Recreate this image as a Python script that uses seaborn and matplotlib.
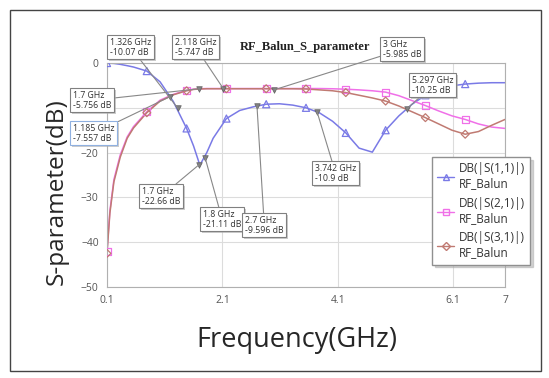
import pandas as pd
import matplotlib.pyplot as plt
import matplotlib.patheffects as pe
from matplotlib.lines import Line2D
from matplotlib.patches import Rectangle
import seaborn as sns

# dados (GHz / dB)
freq = [0.1, 0.15, 0.22, 0.33, 0.45, 0.56, 0.79, 1.02, 1.25, 1.48, 1.6, 1.71, 1.83, 1.94,
        2.17, 2.4, 2.63, 2.86, 3.09, 3.32, 3.55, 3.78, 4.01, 4.24, 4.47, 4.7, 4.93, 5.16,
        5.39, 5.62, 5.85, 6.08, 6.31, 6.54, 6.77, 7.0]
s11 = [0, -0.05, -0.1, -0.3, -0.6, -0.9, -1.8, -4.2, -8.6, -14.6, -18.5, -22.8, -20.0, -16.8,
       -12.4, -10.6, -9.8, -9.2, -9.1, -9.4, -10.0, -11.1, -13.0, -15.6, -19.0, -19.9, -15.0, -11.8,
       -9.2, -7.2, -5.9, -5.1, -4.7, -4.5, -4.4, -4.4]
s21 = [-42, -33, -26, -20.5, -16.5, -14.2, -10.9, -8.3, -7.0, -6.1, -5.85, -5.75, -5.7, -5.7,
       -5.7, -5.7, -5.7, -5.7, -5.7, -5.7, -5.7, -5.7, -5.75, -5.85, -6.0, -6.2, -6.5, -7.3,
       -8.4, -9.5, -10.7, -11.8, -12.6, -13.6, -14.3, -14.6]
s31 = [-42.5, -33.5, -26.5, -21, -16.8, -14.5, -11.1, -8.5, -7.1, -6.2, -5.9, -5.8, -5.75, -5.75,
       -5.75, -5.75, -5.75, -5.75, -5.75, -5.75, -5.8, -6.0, -6.2, -6.6, -7.2, -7.8, -8.5, -9.6,
       -10.9, -12.2, -13.6, -15.0, -15.9, -15.3, -13.9, -12.6]
simbolo_freq = [0.1, 0.79, 1.48, 2.17, 2.86, 3.55, 4.24, 4.93, 5.62, 6.31]

# marcadores do simulador: freq, dB, posicao do texto (px na imagem)
mk_freq = [1.326, 2.118, 3.0, 1.7, 1.185, 1.7, 1.8, 2.7, 3.742, 5.297]
mk_db = [-10.07, -5.747, -5.985, -5.756, -7.557, -22.66, -21.11, -9.596, -10.9, -10.25]
mk_pos = [(110, 38), (175, 38), (383, 40), (73, 91), (73, 124), (142, 187), (203, 210),
          (245, 216), (315, 164), (412, 76)]

df = pd.DataFrame({'freq': freq, 'S11': s11, 'S21': s21, 'S31': s31})

tracos = [('S11', 'DB(|S(1,1)|)\nRF_Balun', '#7a7ae6', '^'),
          ('S21', 'DB(|S(2,1)|)\nRF_Balun', '#f070e8', 's'),
          ('S31', 'DB(|S(3,1)|)\nRF_Balun', '#c07a72', 'D')]

sns.set_style('white')
plt.rcParams['font.family'] = ['Open Sans', 'DejaVu Sans']

fig = plt.figure(figsize=(5.49, 3.78), dpi=100)
ax = fig.add_axes([107/549, 1-287/378, 398/549, 224/378])

pontos = df[df['freq'].isin(simbolo_freq)]
handles = []
for col, nome, cor, mk in tracos:
    sns.lineplot(x=df['freq'], y=df[col], color=cor, lw=1.1, ax=ax)
    ax.scatter(pontos['freq'], pontos[col], marker=mk, s=26 if mk != 'D' else 16,
               facecolors='none', edgecolors=cor, linewidths=0.9, zorder=3)
    handles.append(Line2D([], [], color=cor, lw=1, marker=mk, ms=5 if mk != 'D' else 4,
                          mfc='none', mec=cor))

sns.scatterplot(x=mk_freq, y=mk_db, marker='v', s=16, color='#808080', edgecolor='#606060',
                linewidth=0.5, ax=ax, zorder=4)

for f, db, (px, py) in zip(mk_freq, mk_db, mk_pos):
    ec = '#8fb0e0' if f == 1.185 else '#808080'
    t = ax.annotate(f'{f:g} GHz\n{db:g} dB', xy=(f, db), xytext=(px, 378-py),
                    textcoords='figure pixels', ha='left', va='top', fontsize=6.3,
                    color='#333333', linespacing=1.1, annotation_clip=False,
                    bbox=dict(boxstyle='square,pad=0.3', fc='white', ec=ec, lw=0.8),
                    arrowprops=dict(arrowstyle='-', color='#888888', lw=0.8,
                                    shrinkA=0, shrinkB=0), zorder=6)
    t.get_bbox_patch().set_path_effects([pe.withSimplePatchShadow(offset=(1.5, -1.5),
                                                                  shadow_rgbFace='#aaaaaa', alpha=0.6)])

ax.set_xlim(0.1, 7)
ax.set_ylim(-50, 0)
ax.set_xticks([0.1, 2.1, 4.1, 6.1, 7])
ax.set_xticklabels(['0.1', '2.1', '4.1', '6.1', '7'])
ax.set_yticks([0, -10, -20, -30, -40, -50])
ax.tick_params(length=0, labelsize=7.5, labelcolor='#555555', pad=6)
ax.grid(True, color='#dcdcdc', lw=0.8)
for s in ax.spines.values():
    s.set_color('#b0b0b0')
ax.set_xlabel('')
ax.set_ylabel('')

leg = ax.legend(handles, [t[1] for t in tracos], loc='upper left', bbox_to_anchor=(0.817, 0.58),
                borderaxespad=0, fontsize=8.5, handlelength=1.4, handletextpad=0.4,
                labelspacing=0.55, frameon=True, fancybox=False, shadow={'color': '#aaaaaa'},
                borderpad=0.45, labelcolor='#333333')
leg.get_frame().set_edgecolor('#909090')
leg.set_zorder(7)

fig.text(305/549, 1-47/378, 'RF_Balun_S_parameter', ha='center', va='center',
         family='Liberation Serif', weight='bold', fontsize=9, color='#222222')
fig.text(57/549, 1-192/378, 'S-parameter(dB)', rotation=90, ha='center', va='center', fontsize=17.5)
fig.text(297/549, 1-340/378, 'Frequency(GHz)', ha='center', va='center', fontsize=19.5)

fig.patches.append(Rectangle((10/549, 7/378), 531/549, 361/378, transform=fig.transFigure,
                             fill=False, ec='#444444', lw=1))

plt.savefig('out.png', dpi=100)
